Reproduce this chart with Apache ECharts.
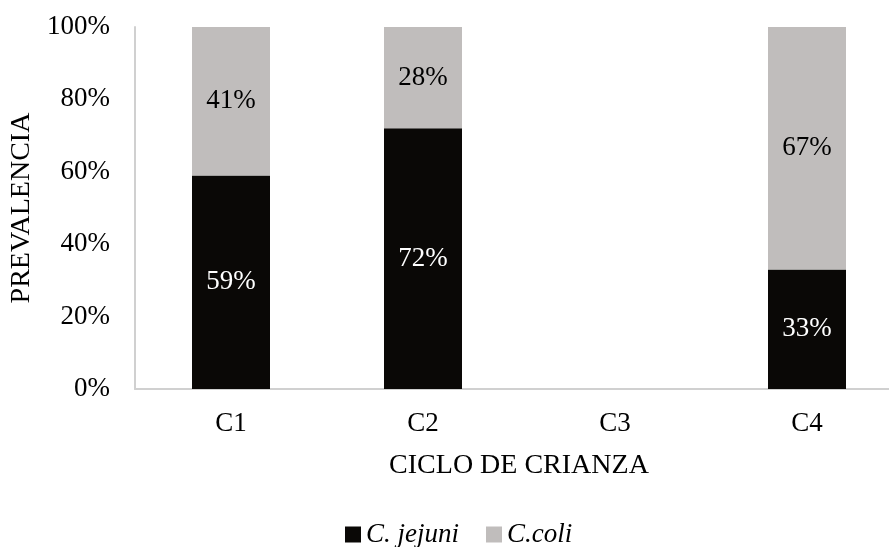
<!DOCTYPE html>
<html>
<head>
<meta charset="utf-8">
<script src="https://cdn.jsdelivr.net/npm/echarts@6/dist/echarts.min.js"></script>
<style>
  html, body { margin: 0; padding: 0; background: #fff; }
  #chart { width: 889px; height: 547px; }
</style>
</head>
<body>
<div id="chart"></div>
<script>
// Breeding cycles and Campylobacter species prevalence (%)
const ciclos = ['C1', 'C2', 'C3', 'C4'];
const jejuni = [59, 72, null, 33];
const coli = [41, 28, null, 67];
const yTicks = [0, 20, 40, 60, 80, 100];

const FONT = '"Liberation Serif", "Times New Roman", serif';

const chart = echarts.init(document.getElementById('chart'), null, { renderer: 'canvas' });

chart.setOption({
  animation: false,
  textStyle: { fontFamily: FONT },
  grid: { left: 135, top: 27, right: -14, height: 362, containLabel: false, outerBoundsMode: 'none' },
  legend: {
    bottom: -6,
    left: 340,
    itemWidth: 16,
    itemHeight: 16,
    itemGap: 27,
    icon: 'rect',
    textStyle: { fontFamily: FONT, fontSize: 27, fontStyle: 'italic', color: '#000' },
    data: ['C. jejuni', 'C.coli']
  },
  xAxis: {
    type: 'category',
    data: ciclos,
    name: 'CICLO DE CRIANZA',
    nameLocation: 'middle',
    nameGap: 63,
    nameTextStyle: { fontFamily: FONT, fontSize: 28, color: '#000' },
    axisLine: { show: true, lineStyle: { color: '#d0d0d0', width: 2 } },
    axisTick: { show: false },
    axisLabel: { fontFamily: FONT, fontSize: 27, color: '#000', margin: 21 }
  },
  yAxis: {
    type: 'value',
    min: yTicks[0],
    max: yTicks[yTicks.length - 1],
    interval: 20,
    name: 'PREVALENCIA',
    nameLocation: 'middle',
    nameGap: 99,
    nameTextStyle: { fontFamily: FONT, fontSize: 28, color: '#000' },
    axisLine: { show: true, lineStyle: { color: '#d0d0d0', width: 2 } },
    axisTick: { show: false },
    splitLine: { show: false },
    axisLabel: { fontFamily: FONT, fontSize: 27, color: '#000', margin: 25, formatter: '{value}%' }
  },
  series: [
    {
      name: 'C. jejuni',
      type: 'bar',
      stack: 'total',
      barWidth: 78,
      data: jejuni,
      itemStyle: { color: '#0a0806' },
      label: { show: true, position: 'inside', formatter: '{c}%', fontFamily: FONT, fontSize: 27, color: '#fff' }
    },
    {
      name: 'C.coli',
      type: 'bar',
      stack: 'total',
      barWidth: 78,
      data: coli,
      itemStyle: { color: '#c0bdbc' },
      label: { show: true, position: 'inside', formatter: '{c}%', fontFamily: FONT, fontSize: 27, color: '#000' }
    }
  ]
});
</script>
</body>
</html>
